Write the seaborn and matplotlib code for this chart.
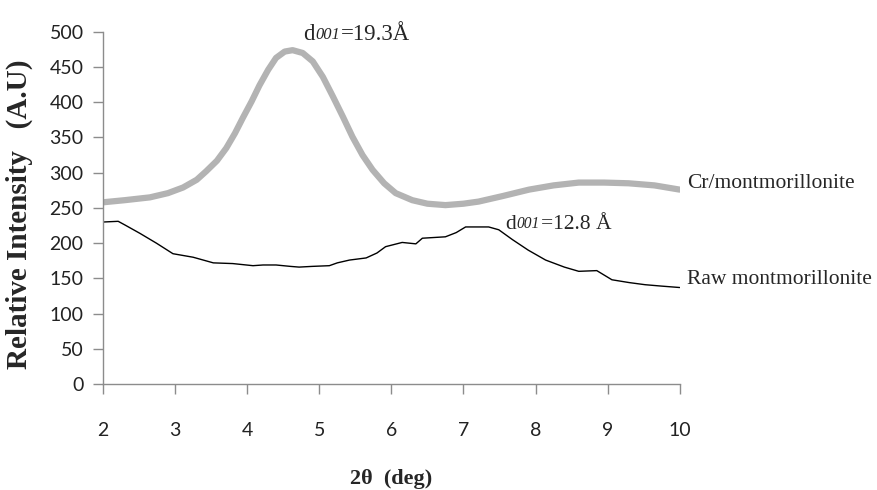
import numpy as np
import pandas as pd
import matplotlib
matplotlib.use("Agg")
import matplotlib.pyplot as plt
import seaborn as sns

# ==============================================================================
# DATA
# ==============================================================================
cr_theta = [2.0, 2.3, 2.65, 2.9, 3.11, 3.3, 3.43, 3.58, 3.71, 3.83, 3.94, 4.06, 4.17,
            4.29, 4.40, 4.52, 4.63, 4.77, 4.91, 5.05, 5.19, 5.33, 5.46, 5.6, 5.74,
            5.9, 6.06, 6.29, 6.5, 6.75, 7.0, 7.21, 7.55, 7.91, 8.25, 8.6, 8.95,
            9.29, 9.65, 10.0]
cr_int = [258, 261, 265, 271, 279, 290, 302, 317, 335, 356, 378, 401, 424,
          446, 463, 472, 474, 470, 458, 436, 408, 379, 351, 325, 304,
          285, 271, 261, 256, 254, 256, 259, 267, 276, 282, 286, 286,
          285, 282, 276]

raw_theta = [2.0, 2.21, 2.3, 2.51, 2.74, 2.97, 3.25, 3.53, 3.8, 4.08, 4.22, 4.4,
             4.6, 4.72, 4.9, 5.14, 5.25, 5.42, 5.65, 5.8, 5.92, 6.15, 6.34, 6.43,
             6.75, 6.9, 7.03, 7.35, 7.49, 7.68, 7.9, 8.14, 8.4, 8.6, 8.85, 9.06,
             9.3, 9.52, 9.75, 10.0]
raw_int = [230, 231, 226, 214, 200, 185, 180, 172, 171, 168, 169, 169,
           167, 166, 167, 168, 172, 176, 179, 186, 195, 201, 199, 207,
           209, 215, 223, 223, 219, 205, 190, 176, 166, 160, 161, 148,
           144, 141, 139, 137]

x_ticks = [2, 3, 4, 5, 6, 7, 8, 9, 10]
y_ticks = [0, 50, 100, 150, 200, 250, 300, 350, 400, 450, 500]

df_cr = pd.DataFrame({"theta": cr_theta, "intensity": cr_int})
df_raw = pd.DataFrame({"theta": raw_theta, "intensity": raw_int})

# ==============================================================================
# PLOT
# ==============================================================================
sns.set_theme(style="white")
plt.rcParams["font.family"] = ["Lato", "DejaVu Sans"]
serif = ["Liberation Serif", "DejaVu Serif"]

fig = plt.figure(figsize=(8.77, 4.90), dpi=100)
ax = fig.add_axes([0.1175, 0.2163, 0.6575, 0.7187])

sns.lineplot(data=df_cr, x="theta", y="intensity", ax=ax, color="#b3b3b3",
             linewidth=4.5, estimator=None, sort=False)
sns.lineplot(data=df_raw, x="theta", y="intensity", ax=ax, color="black",
             linewidth=1.0, estimator=None, sort=False)

ax.set_xlim(2, 10)
ax.set_ylim(0, 500)
ax.set_xticks(x_ticks)
ax.set_yticks(y_ticks)
ax.tick_params(axis="x", direction="out", length=7, width=1, color="#8c8c8c",
               pad=20, labelsize=14, labelcolor="#222222")
ax.tick_params(axis="y", direction="out", length=7, width=1, color="#8c8c8c",
               pad=7, labelsize=14, labelcolor="#222222")
ax.tick_params(bottom=True, left=True)

for side in ["top", "right"]:
    ax.spines[side].set_visible(False)
for side in ["left", "bottom"]:
    ax.spines[side].set_color("#8c8c8c")
    ax.spines[side].set_linewidth(1.0)

ax.set_xlabel("2θ  (deg)", fontsize=16, fontweight="bold", family=serif)
ax.xaxis.set_label_coords(0.5, -0.24)
ax.set_ylabel("Relative Intensity   (A.U)", fontsize=21, fontweight="bold", family=serif)
ax.yaxis.set_label_coords(-0.122, 0.483)


def d_label(x, y, value, size):
    # "d" + small italic "001" + "=value", chained one after another
    t1 = ax.text(x, y, "d", fontsize=size, family=serif, ha="left", va="baseline")
    t2 = ax.annotate("001", xy=(1, 0), xycoords=t1, xytext=(0.5, 1.5),
                     textcoords="offset points", fontsize=size * 0.72,
                     style="italic", family=serif, ha="left", va="bottom")
    ax.annotate(value, xy=(1, 0), xycoords=t2, xytext=(0.5, -1.5),
                textcoords="offset points", fontsize=size, family=serif,
                ha="left", va="bottom")


d_label(4.78, 488, "=19.3Å", 16.5)
d_label(7.58, 220, "=12.8 Å", 15.5)

ax.text(10.1, 284, "Cr/montmorillonite", fontsize=15.5, family=serif,
        ha="left", va="center", clip_on=False)
ax.text(10.1, 149, "Raw montmorillonite", fontsize=15.5, family=serif,
        ha="left", va="center", clip_on=False)

plt.savefig("out.png", dpi=100)
plt.close()
